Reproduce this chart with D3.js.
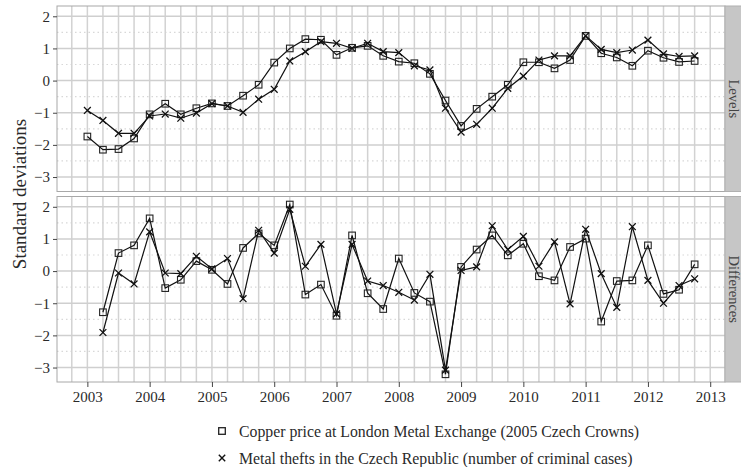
<!DOCTYPE html>
<html><head><meta charset="utf-8">
<script src="https://cdn.jsdelivr.net/npm/d3@7"></script>
<style>body{margin:0;background:#fff}svg{display:block}</style>
</head><body>
<script>
// Quarterly time points 2003Q1..2012Q4
const years = [2003,2004,2005,2006,2007,2008,2009,2010,2011,2012];
const quarters = [1,2,3,4];
const xTicks = [2003,2004,2005,2006,2007,2008,2009,2010,2011,2012,2013];
const yTicks = [-3,-2,-1,0,1,2];
const panels = ["Levels","Differences"];
const seriesNames = ["Copper price at London Metal Exchange (2005 Czech Crowns)",
                     "Metal thefts in the Czech Republic (number of criminal cases)"];

const copperLevels = [-1.74,-2.15,-2.13,-1.80, -1.05,-0.72,-1.05,-0.86, -0.71,-0.79,-0.47,-0.13,
  0.56,1.00,1.29,1.27, 0.80,1.02,1.08,0.77, 0.59,0.54,0.21,-0.62, -1.41,-0.88,-0.50,-0.13,
  0.57,0.57,0.38,0.64, 1.39,0.85,0.72,0.46, 0.93,0.71,0.58,0.61];
const theftLevels = [-0.93,-1.24,-1.64,-1.64, -1.10,-1.04,-1.17,-1.01, -0.72,-0.79,-0.99,-0.58,
  -0.27,0.61,0.90,1.21, 1.16,1.00,1.16,0.90, 0.87,0.46,0.33,-0.86, -1.60,-1.36,-0.86,-0.24,
  0.14,0.64,0.77,0.77, 1.39,0.97,0.87,0.95, 1.26,0.83,0.75,0.77];
// Differences start at 2003Q2
const copperDiff = [-1.28,0.56,0.80, 1.64,-0.53,-0.27,0.31, 0.04,-0.40,0.72,1.17,
  0.80,2.07,-0.73,-0.42, -1.39,1.11,-0.69,-1.18, 0.39,-0.68,-0.95,-3.21,
  0.13,0.67,1.11,0.49, 0.85,-0.16,-0.29,0.75, 1.01,-1.57,-0.31,-0.29, 0.80,-0.71,-0.58,0.21];
const theftDiff = [-1.91,-0.06,-0.40, 1.22,-0.06,-0.08,0.46, 0.07,0.39,-0.86,1.27,
  0.56,1.92,0.15,0.83, -1.33,0.83,-0.31,-0.45, -0.66,-0.90,-0.10,-3.08,
  0.02,0.13,1.41,0.67, 1.08,0.15,0.91,-1.02, 1.30,-0.08,-1.13,1.38, -0.29,-1.00,-0.45,-0.24];

const times = [];
years.forEach(y => quarters.forEach(q => times.push(y + (q-1)/4)));

const W = 741, H = 467;
const svg = d3.select("body").append("svg").attr("width", W).attr("height", H);
const font = "'Liberation Serif', 'DejaVu Serif', serif";
const txt = "#2a2a2a";

const x = d3.scaleLinear().domain([2002.5125, 2013.2375]).range([57, 725]);
const panelBox = [{top: 6, bottom: 191.5}, {top: 196.5, bottom: 382}];
const yDomain = [-3.45, 2.32];

const panelData = [
  [{vals: copperLevels, t: times, shape: "square"}, {vals: theftLevels, t: times, shape: "cross"}],
  [{vals: copperDiff, t: times.slice(1), shape: "square"}, {vals: theftDiff, t: times.slice(1), shape: "cross"}]
];

panelBox.forEach((pb, i) => {
  const y = d3.scaleLinear().domain(yDomain).range([pb.bottom, pb.top]);
  const g = svg.append("g");
  g.append("rect").attr("x", 57).attr("y", pb.top).attr("width", 725-57).attr("height", pb.bottom-pb.top)
    .attr("fill", "#fff");
  const minorY = d3.range(-3, 2.01, 1).map(v => v + 0.5).filter(v => v > yDomain[0] && v < yDomain[1]);
  g.selectAll(".hmin").data(minorY).enter().append("line")
    .attr("x1", 57).attr("x2", 725).attr("y1", d => y(d)).attr("y2", d => y(d))
    .attr("stroke", "#d8d8d8").attr("stroke-width", 1.2).attr("stroke-dasharray", "1.5,3");
  const vq = d3.range(2002.75, 2013.3, 0.25);
  g.selectAll(".v").data(vq.filter(v => x(v) > 58 && x(v) < 724)).enter().append("line")
    .attr("x1", d => x(d)).attr("x2", d => x(d)).attr("y1", pb.top).attr("y2", pb.bottom)
    .attr("stroke", "#d2d2d2").attr("stroke-width", 1.5);
  g.selectAll(".h").data(yTicks).enter().append("line")
    .attr("x1", 57).attr("x2", 725).attr("y1", d => y(d)).attr("y2", d => y(d))
    .attr("stroke", "#cfcfcf").attr("stroke-width", 1.5);
  g.append("rect").attr("x", 57).attr("y", pb.top).attr("width", 725-57).attr("height", pb.bottom-pb.top)
    .attr("fill", "none").attr("stroke", "#a8a8a8").attr("stroke-width", 1);
  g.append("rect").attr("x", 725).attr("y", pb.top).attr("width", 20).attr("height", pb.bottom-pb.top)
    .attr("fill", "#c6c6c6").attr("stroke", "#b0b0b0");
  const cy = (pb.top + pb.bottom)/2;
  g.append("text").attr("transform", `translate(733.5,${cy}) rotate(90)`)
    .attr("text-anchor", "middle").attr("dominant-baseline", "central")
    .attr("font-family", font).attr("font-size", 14.5).attr("fill", "#444").text(panels[i]);
  const ya = d3.axisLeft(y).tickValues(yTicks).tickSize(4).tickPadding(3)
    .tickFormat(d => d < 0 ? "\u2212" + Math.abs(d) : d);
  const ag = svg.append("g").attr("transform", "translate(57,0)").call(ya);
  ag.select(".domain").remove();
  ag.selectAll("line").attr("stroke", "#444");
  ag.selectAll("text").attr("font-family", font).attr("font-size", 15).attr("fill", txt);

  const line = d3.line().x(d => x(d[0])).y(d => y(d[1]));
  panelData[i].forEach(s => {
    const pts = s.vals.map((v, k) => [s.t[k], v]);
    g.append("path").datum(pts).attr("d", line).attr("fill", "none")
      .attr("stroke", "#111").attr("stroke-width", 1.2);
    if (s.shape === "square") {
      g.selectAll(null).data(pts).enter().append("rect")
        .attr("x", d => x(d[0]) - 3.3).attr("y", d => y(d[1]) - 3.3)
        .attr("width", 6.6).attr("height", 6.6)
        .attr("fill", "none").attr("stroke", "#222").attr("stroke-width", 1.1);
    } else {
      g.selectAll(null).data(pts).enter().append("path")
        .attr("d", d => { const cx = x(d[0]), cyy = y(d[1]), r = 3.4;
          return `M${cx-r},${cyy-r}L${cx+r},${cyy+r}M${cx-r},${cyy+r}L${cx+r},${cyy-r}`; })
        .attr("stroke", "#111").attr("stroke-width", 1.3).attr("fill", "none");
    }
  });
});

const xa = d3.axisBottom(x).tickValues(xTicks).tickSize(5).tickPadding(4).tickFormat(d3.format("d"));
const xg = svg.append("g").attr("transform", "translate(0,382)").call(xa);
xg.select(".domain").remove();
xg.selectAll("line").attr("stroke", "#444");
xg.selectAll("text").attr("font-family", font).attr("font-size", 15).attr("fill", txt);

svg.append("text").attr("transform", "translate(19,194) rotate(-90)")
  .attr("text-anchor", "middle").attr("dominant-baseline", "central")
  .attr("font-family", font).attr("font-size", 19).attr("fill", txt).text("Standard deviations");

const leg = svg.append("g");
const legY = [431, 458];
seriesNames.forEach((nm, k) => {
  const cy = legY[k], cx = 222;
  if (k === 0) {
    leg.append("rect").attr("x", cx-3.3).attr("y", cy-3.3).attr("width", 6.6).attr("height", 6.6)
      .attr("fill", "none").attr("stroke", "#222").attr("stroke-width", 1.3);
  } else {
    const r = 3.2;
    leg.append("path").attr("d", `M${cx-r},${cy-r}L${cx+r},${cy+r}M${cx-r},${cy+r}L${cx+r},${cy-r}`)
      .attr("stroke", "#111").attr("stroke-width", 1.4);
  }
  leg.append("text").attr("x", 239).attr("y", cy).attr("dominant-baseline", "central")
    .attr("font-family", font).attr("font-size", 15.8).attr("fill", txt).text(nm);
});
</script>
</body></html>
